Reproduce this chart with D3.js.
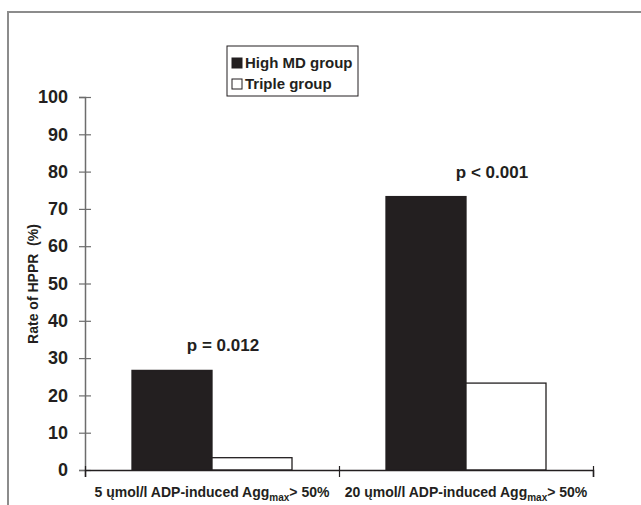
<!DOCTYPE html>
<html>
<head>
<meta charset="utf-8">
<script src="https://cdn.jsdelivr.net/npm/d3@7"></script>
<style>
  body { margin: 0; background: #fff; }
  text { font-family: "Liberation Sans", Arial, Helvetica, sans-serif; font-weight: bold; fill: #231f20; }
</style>
</head>
<body>
<svg id="canvas" width="641" height="505"></svg>
<script>
// chart data
const categories = ["5 ųmol/l ADP-induced Agg", "20 ųmol/l ADP-induced Agg"];
const categorySuffix = "> 50%";
const series = ["High MD group", "Triple group"];
const highMD = [26.7, 73.3];
const triple = [3.3, 23.3];
const pLabels = ["p = 0.012", "p < 0.001"];
const yTicks = [0, 10, 20, 30, 40, 50, 60, 70, 80, 90, 100];

const svg = d3.select('#canvas');

// outer frame, runs off the right and bottom of the picture
svg.append("rect")
  .attr("x", 8).attr("y", 12)
  .attr("width", 660).attr("height", 520)
  .attr("fill", "none")
  .attr("stroke", "#8c8c8c")
  .attr("stroke-width", 2);

const plotLeft = 85, plotRight = 593, plotTop = 97, plotBottom = 470;

const y = d3.scaleLinear().domain([0, 100]).range([plotBottom, plotTop]);
const x = d3.scaleBand().domain(categories).range([plotLeft, plotRight]).padding(0);
const inner = d3.scaleBand().domain(series).range([-80, 80]).padding(0);
const colors = d3.scaleOrdinal().domain(series).range(["#231f20", "#ffffff"]);

// y axis, ticks cross the axis line
const yAxis = svg.append("g")
  .attr("transform", `translate(${plotLeft},0)`)
  .call(d3.axisLeft(y).tickValues(yTicks).tickSize(6).tickPadding(11));
yAxis.select(".domain").attr("stroke", "#6d6d6d").attr("stroke-width", 1.5);
yAxis.selectAll(".tick line").attr("x1", 6).attr("x2", -6).attr("stroke", "#6d6d6d").attr("stroke-width", 1.2);
yAxis.selectAll(".tick text")
  .attr("font-size", 18)
  .attr("font-family", "Liberation Sans, Arial, sans-serif")
  .attr("font-weight", "bold")
  .attr("fill", "#231f20");

// bars
const rows = categories.map((c, i) => ({ cat: c, values: [highMD[i], triple[i]] }));
rows.forEach(row => {
  const cx = x(row.cat) + x.bandwidth() / 2;
  svg.selectAll(null)
    .data(series.map((s, j) => ({ s: s, v: row.values[j] })))
    .enter().append("rect")
    .attr("x", d => cx + inner(d.s))
    .attr("y", d => y(d.v))
    .attr("width", inner.bandwidth())
    .attr("height", d => plotBottom - y(d.v))
    .attr("fill", d => colors(d.s))
    .attr("stroke", "#231f20")
    .attr("stroke-width", 1.3);
});

// x axis with boundary ticks
const xb = d3.scaleLinear().domain([0, categories.length]).range([plotLeft, plotRight]);
const xAxis = svg.append("g")
  .attr("transform", `translate(0,${plotBottom})`)
  .call(d3.axisBottom(xb).tickValues(d3.range(categories.length + 1)).tickSize(7).tickFormat(""));
xAxis.select(".domain").attr("stroke", "#231f20").attr("stroke-width", 1.5);
xAxis.selectAll(".tick line").attr("y1", -4).attr("stroke", "#231f20").attr("stroke-width", 1.2);

// category labels with subscript
categories.forEach(c => {
  const t = svg.append("text")
    .attr("x", x(c) + x.bandwidth() / 2)
    .attr("y", 497)
    .attr("text-anchor", "middle")
    .attr("font-size", 14);
  t.append("tspan").text(c);
  t.append("tspan").attr("font-size", 10).attr("dy", 4).text("max");
  t.append("tspan").attr("dy", -4).text(categorySuffix);
});

// p values above the groups
const pShift = [11, 26];
pLabels.forEach((p, i) => {
  svg.append("text")
    .attr("x", x(categories[i]) + x.bandwidth() / 2 + pShift[i])
    .attr("y", y(highMD[i]) - 19)
    .attr("text-anchor", "middle")
    .attr("font-size", 17)
    .text(p);
});

// y axis title
svg.append("text")
  .attr("transform", "translate(38,284) rotate(-90)")
  .attr("text-anchor", "middle")
  .attr("font-size", 14)
  .style("white-space", "pre")
  .text("Rate of HPPR  (%)");

// legend
const lg = svg.append("g").attr("transform", "translate(227,46)");
lg.append("rect")
  .attr("width", 131).attr("height", 50)
  .attr("fill", "#fff").attr("stroke", "#231f20").attr("stroke-width", 1);
series.forEach((s, i) => {
  lg.append("rect")
    .attr("x", 5).attr("y", 12 + i * 21)
    .attr("width", 10).attr("height", 10)
    .attr("fill", colors(s)).attr("stroke", "#231f20").attr("stroke-width", 1);
  lg.append("text")
    .attr("x", 18).attr("y", 22 + i * 21)
    .attr("font-size", 15)
    .text(s);
});
</script>
</body>
</html>
